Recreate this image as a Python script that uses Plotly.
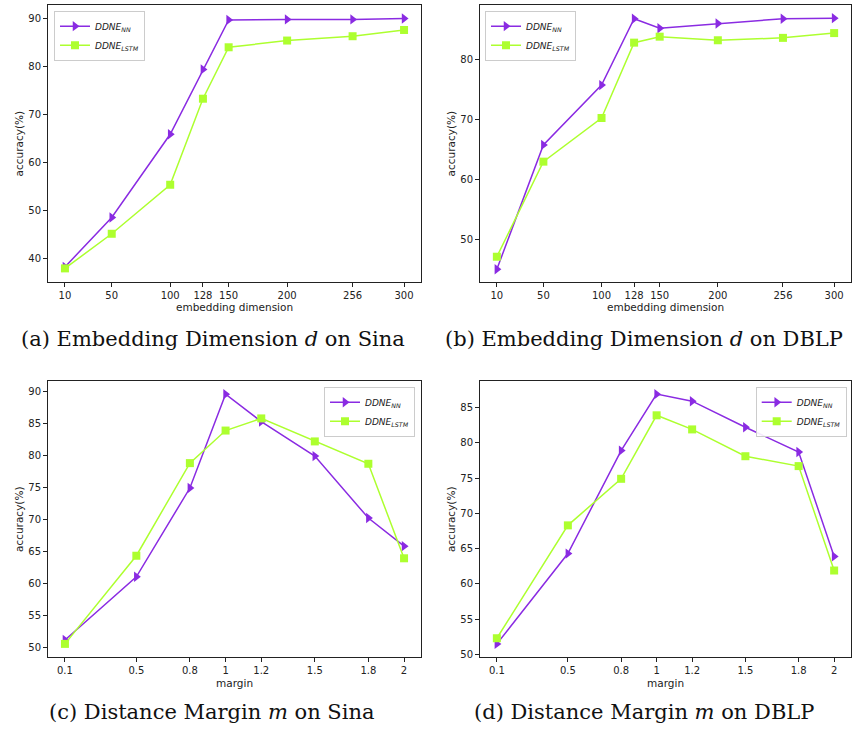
import plotly.graph_objects as go

# ---- data ----
dims = [10, 50, 100, 128, 150, 200, 256, 300]
margins = [0.1, 0.5, 0.8, 1.0, 1.2, 1.5, 1.8, 2.0]
margin_labels = ["0.1", "0.5", "0.8", "1", "1.2", "1.5", "1.8", "2"]

sina_dim_nn = [38.3, 48.6, 65.9, 79.4, 89.7, 89.8, 89.8, 90.0]
sina_dim_lstm = [38.0, 45.2, 55.4, 73.3, 84.0, 85.4, 86.3, 87.6]
dblp_dim_nn = [45.0, 65.8, 75.8, 86.9, 85.3, 86.1, 86.9, 87.0]
dblp_dim_lstm = [47.1, 63.0, 70.3, 82.9, 83.9, 83.3, 83.7, 84.5]

sina_m_nn = [51.1, 61.0, 74.9, 89.6, 85.3, 79.9, 70.2, 65.8]
sina_m_lstm = [50.5, 64.3, 78.8, 83.9, 85.8, 82.2, 78.7, 63.9]
dblp_m_nn = [51.5, 64.3, 78.9, 86.9, 85.9, 82.2, 78.7, 63.9]
dblp_m_lstm = [52.3, 68.3, 74.9, 83.9, 81.9, 78.1, 76.7, 61.9]

name_nn = "<i>DDNE<sub>NN</sub></i>"
name_lstm = "<i>DDNE<sub>LSTM</sub></i>"
captions = [
    "(a) Embedding Dimension <i>d</i> on Sina",
    "(b) Embedding Dimension <i>d</i> on DBLP",
    "(c) Distance Margin <i>m</i> on Sina",
    "(d) Distance Margin <i>m</i> on DBLP",
]

PURPLE = "#8A2BE2"
GREEN = "#ADFF2F"
W, H = 852, 732

def px_x(p):
    return p / W

def px_y(p):
    return 1 - p / H

fig = go.Figure()

panels = [
    dict(x=dims, nn=sina_dim_nn, lstm=sina_dim_lstm, xd=(48, 421), yd=(5, 283),
         yr=[35.2, 92.8], dt=10, t0=40, xr=[-4.5, 314.5], tt=[str(d) for d in dims],
         leg=(54, 10.7, "left"), xt="embedding dimension", xtitle_y=308.5, cap_y=340, cap_x=213),
    dict(x=dims, nn=dblp_dim_nn, lstm=dblp_dim_lstm, xd=(480, 851), yd=(5, 283),
         yr=[42.9, 89.2], dt=10, t0=50, xr=[-4.5, 314.5], tt=[str(d) for d in dims],
         leg=(485, 10.7, "left"), xt="embedding dimension", xtitle_y=308.5, cap_y=340, cap_x=644),
    dict(x=margins, nn=sina_m_nn, lstm=sina_m_lstm, xd=(48, 421), yd=(382.3, 660),
         yr=[48.4, 91.7], dt=5, t0=50, xr=[0.005, 2.095], tt=margin_labels,
         leg=(415, 388.3, "right"), xt="margin", xtitle_y=685.7, cap_y=715, cap_x=212),
    dict(x=margins, nn=dblp_m_nn, lstm=dblp_m_lstm, xd=(480, 851), yd=(382.3, 660),
         yr=[49.6, 88.8], dt=5, t0=50, xr=[0.005, 2.095], tt=margin_labels,
         leg=(846.7, 388.3, "right"), xt="margin", xtitle_y=685.7, cap_y=715, cap_x=644),
]

annotations = []
layout_updates = {}
for i, p in enumerate(panels, start=1):
    sfx = "" if i == 1 else str(i)
    legname = "legend" if i == 1 else f"legend{i}"
    fig.add_trace(go.Scatter(
        x=p["x"], y=p["nn"], name=name_nn, mode="lines+markers",
        line=dict(color=PURPLE, width=1.5),
        marker=dict(symbol="triangle-right", size=9, color=PURPLE),
        xaxis=f"x{sfx}", yaxis=f"y{sfx}", legend=legname, cliponaxis=False))
    fig.add_trace(go.Scatter(
        x=p["x"], y=p["lstm"], name=name_lstm, mode="lines+markers",
        line=dict(color=GREEN, width=1.5),
        marker=dict(symbol="square", size=8, color=GREEN),
        xaxis=f"x{sfx}", yaxis=f"y{sfx}", legend=legname, cliponaxis=False))

    axis_common = dict(showgrid=False, zeroline=False, showline=True, mirror=True,
                       linecolor="#222", linewidth=1, ticks="outside", ticklen=4,
                       tickcolor="#222", tickfont=dict(family="DejaVu Sans", size=10, color="#222"))
    layout_updates[f"xaxis{sfx}"] = dict(
        domain=[px_x(p["xd"][0]), px_x(p["xd"][1])], anchor=f"y{sfx}",
        range=p["xr"], tickmode="array", tickvals=p["x"], ticktext=p["tt"], **axis_common)
    layout_updates[f"yaxis{sfx}"] = dict(
        domain=[px_y(p["yd"][1]), px_y(p["yd"][0])], anchor=f"x{sfx}",
        range=p["yr"], tick0=p["t0"], dtick=p["dt"], **axis_common)

    lx, ly, side = p["leg"]
    layout_updates[legname] = dict(
        x=px_x(lx), y=px_y(ly), xanchor=side, yanchor="top",
        bgcolor="rgba(255,255,255,0.9)", bordercolor="#cccccc", borderwidth=1,
        font=dict(family="DejaVu Sans", size=9, color="#222"),
        tracegroupgap=0, itemwidth=30)

    annotations.append(dict(
        text=p["xt"], x=px_x((p["xd"][0] + p["xd"][1]) / 2), y=px_y(p["xtitle_y"]),
        xref="paper", yref="paper", xanchor="center", yanchor="middle", showarrow=False,
        font=dict(family="DejaVu Sans", size=10.5, color="#222")))
    annotations.append(dict(
        text="accuracy(%)", x=px_x(p["xd"][0] - 29), y=px_y((p["yd"][0] + p["yd"][1]) / 2),
        xref="paper", yref="paper", xanchor="center", yanchor="middle", showarrow=False,
        textangle=-90, font=dict(family="DejaVu Sans", size=10.5, color="#222")))
    annotations.append(dict(
        text=captions[i - 1], x=px_x(p["cap_x"]), y=px_y(p["cap_y"]),
        xref="paper", yref="paper", xanchor="center", yanchor="middle", showarrow=False,
        font=dict(family="DejaVu Serif", size=21, color="#111")))

fig.update_layout(
    width=W, height=H,
    margin=dict(l=0, r=0, t=0, b=0),
    paper_bgcolor="white", plot_bgcolor="white",
    annotations=annotations,
    **layout_updates,
)

fig.write_html("out.html", config={"displayModeBar": False},
               post_script="document.body.style.margin='0';")
